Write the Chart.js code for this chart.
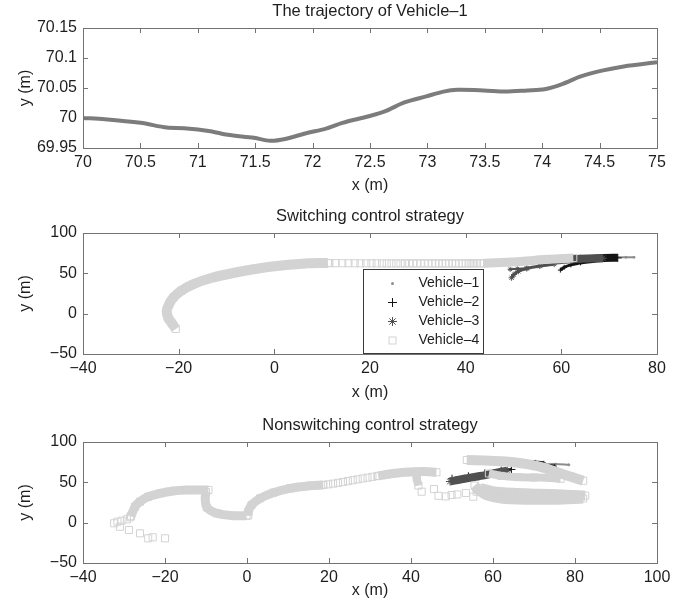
<!DOCTYPE html>
<html>
<head>
<meta charset="utf-8">
<title>Vehicle trajectories</title>
<script src="https://cdn.jsdelivr.net/npm/chart.js@4.4.1/dist/chart.umd.min.js"></script>
<style>
  html, body { margin: 0; padding: 0; background: #fff; }
  canvas { position: absolute; left: 0; }
</style>
</head>
<body>
<canvas id="single" width="692" height="200" style="top:0"></canvas>
<canvas id="switching" width="692" height="210" style="top:200px"></canvas>
<canvas id="nonswitching" width="692" height="195" style="top:410px"></canvas>
<script>
(() => {
  'use strict'

  // ---- data ----
  const vehicles = ['Vehicle–1', 'Vehicle–2', 'Vehicle–3', 'Vehicle–4']

  // path of Vehicle-1 (top panel)
  const pathX = [70, 70.19, 70.5, 70.73, 70.88, 71.11, 71.26, 71.49, 71.63, 71.76, 71.95, 72.11, 72.26, 72.49,
    72.64, 72.8, 72.99, 73.14, 73.26, 73.49, 73.68, 73.87, 74.02, 74.18, 74.33, 74.52, 74.71, 75]
  const pathY = [70.0, 69.998, 69.992, 69.984, 69.983, 69.978, 69.972, 69.967, 69.962, 69.965, 69.975, 69.982,
    69.992, 70.003, 70.012, 70.026, 70.036, 70.044, 70.047, 70.046, 70.044, 70.046, 70.048, 70.057, 70.069,
    70.079, 70.086, 70.093]

  // switching control strategy
  const swV1 = [[70, 69.9], [71.8, 69.9], [73.5, 69.9], [75.2, 69.9]]
  const swV2Tail = [[59.8, 54], [60.6, 57.5], [62, 60.5], [64, 63]]
  const swV2Band = [[64, 66], [68.7, 68.9], [71.8, 69.2]]
  const swV3Tail = [[49.6, 44.5], [50.1, 48.5], [51, 52.5], [52.8, 56], [55.5, 59], [58.5, 61.5]]
  const swV3Strand = [[49.3, 55], [50.8, 55.6], [52.8, 56.4]]
  const swV3Band = [[58, 65.5], [61, 67], [64, 68.2], [68.7, 68.7]]
  const swV4Turn = [[-20.6, -19], [-21.4, -12.1], [-22.2, -5], [-22.5, 3.3], [-22, 11.7], [-21.1, 20],
    [-19.5, 28.3], [-16.9, 36.7], [-13.2, 44.2], [-8.6, 50.4], [-4, 55.4], [1.5, 59.6], [7.1, 62.4], [11.2, 62.8]]
  const swV4Run = [[11.5, 62.6], [12.8, 62.6], [14.2, 62.5], [15.5, 62.5], [16.8, 62.5], [18, 62.4], [19.2, 62.4],
    [20.3, 62.4], [21.4, 62.4], [22.5, 62.3], [23.5, 62.3], [24.5, 62.3], [25.5, 62.3], [26.4, 62.3],
    [27.3, 62.3], [28.2, 62.3], [29, 62.3], [29.8, 62.3], [30.6, 62.3], [31.4, 62.3], [32.2, 62.3],
    [33, 62.3], [33.7, 62.3], [34.4, 62.3], [35.1, 62.3], [35.8, 62.3], [36.5, 62.3], [37.2, 62.3],
    [37.9, 62.3], [38.6, 62.3], [39.3, 62.3], [40, 62.3], [40.6, 62.3], [41.2, 62.3], [41.8, 62.3],
    [42.4, 62.4], [43, 62.4]]
  const swV4Rise = [[43.7, 62.4], [48.6, 63.7], [52.8, 65.3], [56.9, 67.4], [62.5, 69]]

  // nonswitching control strategy
  const nsV1 = [[72.5, 72.5], [75.2, 72.6], [78.5, 71.7]]
  const nsV2Band = [[50, 54.5], [54, 57.5], [58, 61], [62, 64.5], [64.5, 66]]
  const nsV2Top = [[68.2, 75.6], [70.3, 75.3], [72.4, 74.2]]
  const nsV2Bit = [[73, 71.2], [75.1, 70]]
  const nsV3Band = [[49.5, 51], [53, 54.5], [56.5, 57.5], [60, 61], [63.5, 64.5]]
  const nsV4Start = [[-32.4, -0.8], [-31.6, 1.2], [-31, -5], [-30.6, 2.4], [-29.3, 4.1], [-28.8, -9.1],
    [-28.5, 6.6], [-26.1, -13.2], [-24.1, -19.4], [-23, -18.2], [-20, -19.4]]
  const nsV4Arc1 = [[-28.3, 8], [-27.3, 19.8], [-26.1, 26], [-24.1, 32.2], [-21.2, 36.4], [-18, 39.3],
    [-14.7, 40.5], [-10.7, 40.5], [-9.4, 40.5]]
  const nsV4Dip = [[-10, 38], [-10.2, 30.2], [-9.8, 19], [-7.4, 11.6], [-3.3, 8.6], [-0.1, 8.6]]
  const nsV4Arc2 = [[0.3, 9], [0.3, 13.6], [1.1, 21.9], [3.2, 30.2], [6.4, 37.2], [10.5, 42.6], [15.4, 45.8],
    [18.6, 46.7]]
  const nsV4Steps = [[18.6, 46.7], [19.8, 47.5], [21, 48.4], [22.2, 49.4], [23.4, 50.4], [24.6, 51.5],
    [25.8, 52.6], [27, 53.7], [28.2, 54.8], [29.4, 55.8], [30.6, 56.8], [31.8, 57.7]]
  const nsV4Arc3 = [[32, 58], [34.3, 60], [38.6, 62.5], [42.9, 63.3], [46.2, 62.5]]
  const nsV4Drop = [[41.4, 60], [41.4, 55], [41.8, 46]]
  const nsV4Loose = [[42.6, 38.4], [45.6, 41.7], [46.7, 33.3], [48.5, 32.5], [49.9, 34.3], [51.3, 35],
    [53.4, 36.8], [55.2, 32.2], [56, 38.4]]
  const nsV4Upper = [[53.6, 77.7], [58, 77], [62, 76], [65.5, 74.5], [69, 72], [72.5, 68], [76, 62],
    [79, 57], [82, 52]]
  const nsV4Middle = [[59, 61], [62, 58], [66, 56.5], [70, 56], [74, 55.5], [76.5, 54.5]]
  const nsV4LowerA = [[55.5, 46], [56.5, 40], [58.5, 34], [62, 30], [68, 28.5], [75, 28.5], [82, 30]]
  const nsV4LowerB = [[57, 43], [60, 39], [65, 37], [71, 36], [77, 35], [82.5, 33.5]]

  // ---- styling ----
  const FONT = "'Liberation Sans', Arial, Helvetica, sans-serif"
  const INK = '#1e1e1e'
  const EDGE = '#737373'
  Chart.defaults.font.family = FONT
  Chart.defaults.color = INK

  // marker look per vehicle; order puts Vehicle-4 on top like the original plot
  const look = [
    { color: '#8c8c8c', style: 'circle', r: 1.5, fill: '#8c8c8c', order: 3 },
    { color: '#141414', style: 'cross', r: 4, fill: '#141414', order: 2 },
    { color: '#505050', style: 'star', r: 4, fill: '#505050', order: 1 },
    { color: '#d3d3d3', style: 'rect', r: 5, fill: 'rgba(255,255,255,0)', order: 0 }
  ]

  const num = v => String(Math.round(v * 100) / 100).replace('-', '\u2212')
  const xy = pts => pts.map(([x, y]) => ({ x, y }))

  // a run of markers packed tight enough to read as one stroke
  function band (pts, v, width, r) {
    return {
      data: xy(pts), showLine: true, borderColor: v.color, borderWidth: width, tension: 0.3,
      pointStyle: v.style, pointRadius: r === undefined ? v.r : r, pointBorderColor: v.color,
      pointBackgroundColor: v.fill, pointBorderWidth: 1, order: v.order
    }
  }

  function marks (pts, v) {
    return {
      data: xy(pts), showLine: false,
      pointStyle: v.style, pointRadius: v.r, pointBorderColor: v.color,
      pointBackgroundColor: v.fill, pointBorderWidth: 1, order: v.order
    }
  }

  // box round the plot, with short inward ticks on all four sides
  const frame = {
    id: 'frame',
    afterDatasetsDraw (chart) {
      const { ctx, chartArea: a, scales: { x, y } } = chart
      const len = 5
      ctx.save()
      ctx.strokeStyle = EDGE
      ctx.lineWidth = 1
      ctx.beginPath()
      x.ticks.forEach(t => {
        const px = Math.round(x.getPixelForValue(t.value)) + 0.5
        ctx.moveTo(px, a.bottom); ctx.lineTo(px, a.bottom - len)
        ctx.moveTo(px, a.top); ctx.lineTo(px, a.top + len)
      })
      y.ticks.forEach(t => {
        const py = Math.round(y.getPixelForValue(t.value)) + 0.5
        ctx.moveTo(a.left, py); ctx.lineTo(a.left + len, py)
        ctx.moveTo(a.right, py); ctx.lineTo(a.right - len, py)
      })
      ctx.stroke()
      ctx.strokeRect(Math.round(a.left) + 0.5, Math.round(a.top) + 0.5, Math.round(a.width), Math.round(a.height))
      ctx.restore()
    }
  }

  // boxed legend sitting inside the plot area
  const legendBox = {
    id: 'legendBox',
    afterDraw (chart, args, o) {
      const { ctx, chartArea: a } = chart
      const x0 = Math.round(a.left + o.left) + 0.5
      const y0 = Math.round(a.top + o.top) + 0.5
      ctx.save()
      ctx.fillStyle = '#fff'
      ctx.fillRect(x0, y0, o.width, o.height)
      ctx.strokeStyle = '#3a3a3a'
      ctx.lineWidth = 1
      ctx.strokeRect(x0, y0, o.width, o.height)
      ctx.font = '14px ' + FONT
      ctx.textBaseline = 'middle'
      o.items.forEach((it, i) => {
        const cx = x0 + o.markX
        const cy = y0 + o.first + i * o.step
        ctx.strokeStyle = it.color
        ctx.fillStyle = it.color
        ctx.beginPath()
        if (it.style === 'circle') {
          ctx.arc(cx, cy, 1.5, 0, Math.PI * 2)
          ctx.fill()
        } else if (it.style === 'rect') {
          ctx.strokeRect(cx - 3.5, cy - 3.5, 7, 7)
        } else {
          const r = 4.5
          ctx.moveTo(cx - r, cy); ctx.lineTo(cx + r, cy)
          ctx.moveTo(cx, cy - r); ctx.lineTo(cx, cy + r)
          if (it.style === 'star') {
            const d = r * 0.7
            ctx.moveTo(cx - d, cy - d); ctx.lineTo(cx + d, cy + d)
            ctx.moveTo(cx - d, cy + d); ctx.lineTo(cx + d, cy - d)
          }
          ctx.stroke()
        }
        ctx.fillStyle = INK
        ctx.fillText(it.label, x0 + o.textX, cy)
      })
      ctx.restore()
    }
  }

  function axes (xr, yr, geo) {
    const font = { size: 16 }
    return {
      x: {
        type: 'linear', min: xr[0], max: xr[1],
        grid: { display: false, drawTicks: false }, border: { display: false },
        ticks: { stepSize: xr[2], padding: 5, autoSkip: false, maxRotation: 0, font, callback: num },
        title: { display: true, text: 'x (m)', font, padding: { top: 0, bottom: geo.titleGap } },
        afterFit: s => { s.height = geo.height }
      },
      y: {
        type: 'linear', min: yr[0], max: yr[1],
        grid: { display: false, drawTicks: false }, border: { display: false },
        ticks: { stepSize: yr[2], padding: 6, autoSkip: false, font, callback: num },
        title: { display: true, text: 'y (m)', font, padding: { top: 16, bottom: 0 } },
        afterFit: s => { s.width = 83 }
      }
    }
  }

  const heading = (text, top, bottom) => ({
    display: true, text, fullSize: false, color: INK,
    font: { size: 16.5, weight: 'normal' }, padding: { top, bottom }
  })

  function plot (id, datasets, scales, title, extra, more) {
    return new Chart(document.getElementById(id), {
      type: 'scatter',
      data: { datasets },
      options: {
        responsive: false,
        animation: false,
        events: [],
        layout: { padding: { left: 0, right: 35, top: 0, bottom: 0 } },
        scales,
        plugins: Object.assign({ legend: { display: false }, tooltip: { enabled: false }, title }, extra)
      },
      plugins: [frame].concat(more || [])
    })
  }

  // top: single trajectory
  plot('single', [{
    data: pathX.map((x, i) => ({ x, y: pathY[i] })),
    showLine: true, borderColor: '#7c7c7c', borderWidth: 4, pointRadius: 0, tension: 0.3
  }], axes([70, 75, 0.5], [69.95, 70.15, 0.05], { height: 52, titleGap: 4.4 }),
  heading('The trajectory of Vehicle–1', 1.8, 6.4))

  // middle: switching control
  const [v1, v2, v3, v4] = look
  plot('switching', [
    band(swV1, v1, 2, 1),
    band(swV2Tail, v2, 3, 2.5),
    band(swV2Band, v2, 8),
    band(swV3Tail, v3, 3, 3),
    band(swV3Strand, v3, 2, 2.5),
    band(swV3Band, v3, 8),
    band(swV4Turn, v4, 10),
    marks(swV4Run, v4),
    band(swV4Rise, v4, 9)
  ], axes([-40, 80, 20], [-50, 100, 50], { height: 56, titleGap: 7.7 }),
  heading('Switching control strategy', 6.8, 6.4),
  {
    legendBox: {
      left: 280, top: 36, width: 120, height: 84, markX: 29, textX: 55, first: 14, step: 19,
      items: vehicles.map((label, i) => Object.assign({ label }, look[i]))
    }
  }, [legendBox])

  // bottom: nonswitching control
  plot('nonswitching', [
    band(nsV1, v1, 2, 1),
    band(nsV2Band, v2, 3),
    band(nsV2Top, v2, 3, 2),
    band(nsV2Bit, v2, 3, 2),
    band(nsV3Band, v3, 8),
    marks(nsV4Start, v4),
    band(nsV4Arc1, v4, 9),
    band(nsV4Dip, v4, 9),
    band(nsV4Arc2, v4, 9),
    marks(nsV4Steps, v4),
    band(nsV4Arc3, v4, 9),
    band(nsV4Drop, v4, 8),
    marks(nsV4Loose, v4),
    band(nsV4Upper, v4, 10),
    band(nsV4Middle, v4, 8),
    band(nsV4LowerA, v4, 10),
    band(nsV4LowerB, v4, 10)
  ], axes([-40, 100, 20], [-50, 100, 50], { height: 42, titleGap: 5 }),
  heading('Nonswitching control strategy', 5.1, 7.1))
})()
</script>
</body>
</html>
